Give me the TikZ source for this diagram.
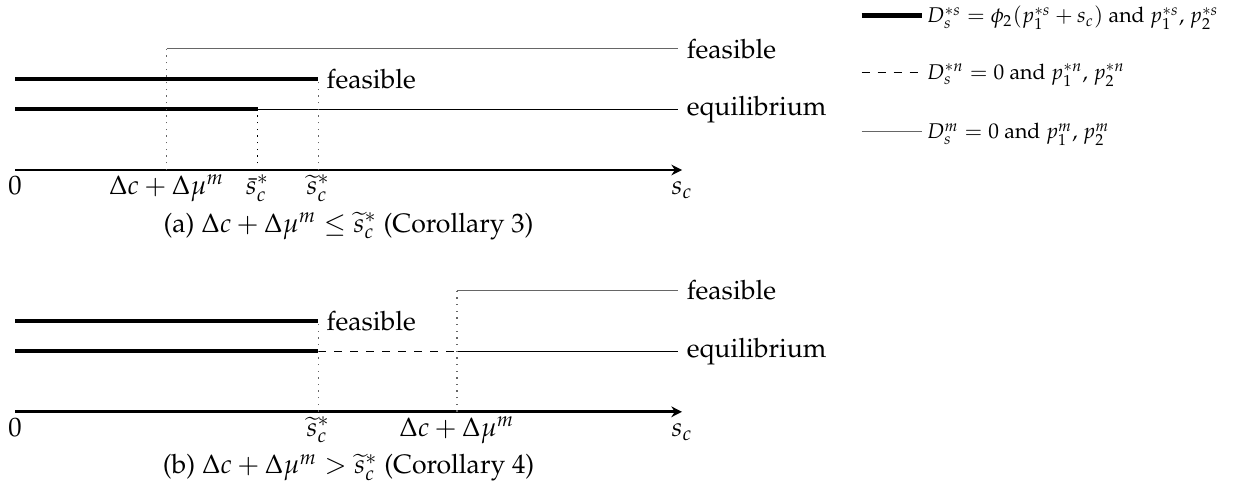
\documentclass[tikz,border=0pt]{standalone}
\usepackage[T1]{fontenc}
\usepackage{amsmath,amssymb}
\usepackage{mathpazo}
\usepackage{tikz}
\usetikzlibrary{arrows.meta, positioning, calc}

\begin{document}
\begin{tikzpicture}[>={Stealth[length=4pt,width=4pt]},
    axis/.style={line width=1.1pt, ->},
    seg/.style={line width=1.6pt},
    eqline/.style={line width=0.5pt},
    fsline/.style={line width=0.5pt, black!60},
    guide/.style={dotted, line width=0.5pt},
    tick/.style={below, inner sep=2pt, text height=1.5ex, text depth=.2ex},
    lbl/.style={right, inner sep=3pt},
    legtext/.style={anchor=west, inner sep=1.5pt, font=\footnotesize, text height=1.6ex, text depth=.4ex}]
    \useasboundingbox (-0.198,-4.195) rectangle (16.095,2.243);
    % (a) corollary 3
    \coordinate (a0) at (0,0);
    \coordinate (aend) at (8.8,0);
    \coordinate (adm) at (2,0);
    \coordinate (abar) at (3.2,0);
    \coordinate (atil) at (4,0);
    \draw[axis] (a0) -- (aend);
    \node[tick] (a0lab) at (a0) {$0$};
    \node[tick] (asc) at (aend) {$s_c$};
    \node[tick] (admlab) at (adm) {$\Delta c+\Delta\mu^m$};
    \node[tick] (abarlab) at (abar) {$\bar{s}_c^*$};
    \node[tick] (atillab) at (atil) {$\widetilde{s}_c^*$};
    \coordinate (afs0) at (0,1.2);
    \coordinate (afs1) at (4,1.2);
    \coordinate (aeq0) at (0,0.8);
    \coordinate (aeq1) at (3.2,0.8);
    \coordinate (am0) at (2,1.6);
    \node[lbl] (afsm) at (8.75,1.6) {feasible};
    \node[lbl] (afss) at (afs1) {feasible};
    \node[lbl] (aeqm) at (8.75,0.8) {equilibrium};
    \draw[seg] (afs0) -- (afs1);
    \draw[seg] (aeq0) -- (aeq1);
    \draw[eqline] (aeq1) -- (aeqm.west);
    \draw[fsline] (am0) -- (afsm.west);
    \draw[guide, black!60] (adm) -- (am0);
    \draw[guide] (abar) -- (aeq1);
    \draw[guide, black!60] (atil) -- (afs1);
    \node (acap) at (4.4,-0.74) {(a) $\Delta c+\Delta\mu^m\le\widetilde{s}_c^*$ (Corollary 3)};
    % (b) corollary 4
    \begin{scope}[yshift=-3.19cm]
      \coordinate (b0) at (0,0);
      \coordinate (bend) at (8.8,0);
      \coordinate (btil) at (4,0);
      \coordinate (bdm) at (5.83,0);
      \draw[axis] (b0) -- (bend);
      \node[tick] (b0lab) at (b0) {$0$};
      \node[tick] (bsc) at (bend) {$s_c$};
      \node[tick] (btillab) at (btil) {$\widetilde{s}_c^*$};
      \node[tick] (bdmlab) at (bdm) {$\Delta c+\Delta\mu^m$};
      \coordinate (bfs0) at (0,1.2);
      \coordinate (bfs1) at (4,1.2);
      \coordinate (beq0) at (0,0.8);
      \coordinate (beq1) at (4,0.8);
      \coordinate (beq2) at (5.83,0.8);
      \coordinate (bm0) at (5.83,1.6);
      \node[lbl] (bfsm) at (8.75,1.6) {feasible};
      \node[lbl] (bfss) at (bfs1) {feasible};
      \node[lbl] (beqm) at (8.75,0.8) {equilibrium};
      \draw[seg] (bfs0) -- (bfs1);
      \draw[seg] (beq0) -- (beq1);
      \draw[eqline, dashed] (beq1) -- (beq2);
      \draw[eqline] (beq2) -- (beqm.west);
      \draw[fsline] (bm0) -- (bfsm.west);
      \draw[guide, black!60] (btil) -- (bfs1);
      \draw[guide, black!60] (bdm) -- (bm0);
      \node (bcap) at (4.4,-0.74) {(b) $\Delta c+\Delta\mu^m>\widetilde{s}_c^*$ (Corollary 4)};
    \end{scope}
    % legend
    \coordinate (k1) at (11.17,2.04);
    \coordinate (k2) at (11.17,1.29);
    \coordinate (k3) at (11.17,0.51);
    \node[legtext] (t1) at (11.97,2.04) {$D_s^{*s}=\phi_2(p_1^{*s}+s_c)$ and $p_1^{*s}$, $p_2^{*s}$};
    \node[legtext] (t2) at (11.97,1.29) {$D_s^{*n}=0$ and $p_1^{*n}$, $p_2^{*n}$};
    \node[legtext] (t3) at (11.97,0.51) {$D_s^{m}=0$ and $p_1^{m}$, $p_2^{m}$};
    \draw[seg] (k1) -- (t1.west);
    \draw[eqline, dashed] (k2) -- (t2.west);
    \draw[fsline] (k3) -- (t3.west);
\end{tikzpicture}
\end{document}
